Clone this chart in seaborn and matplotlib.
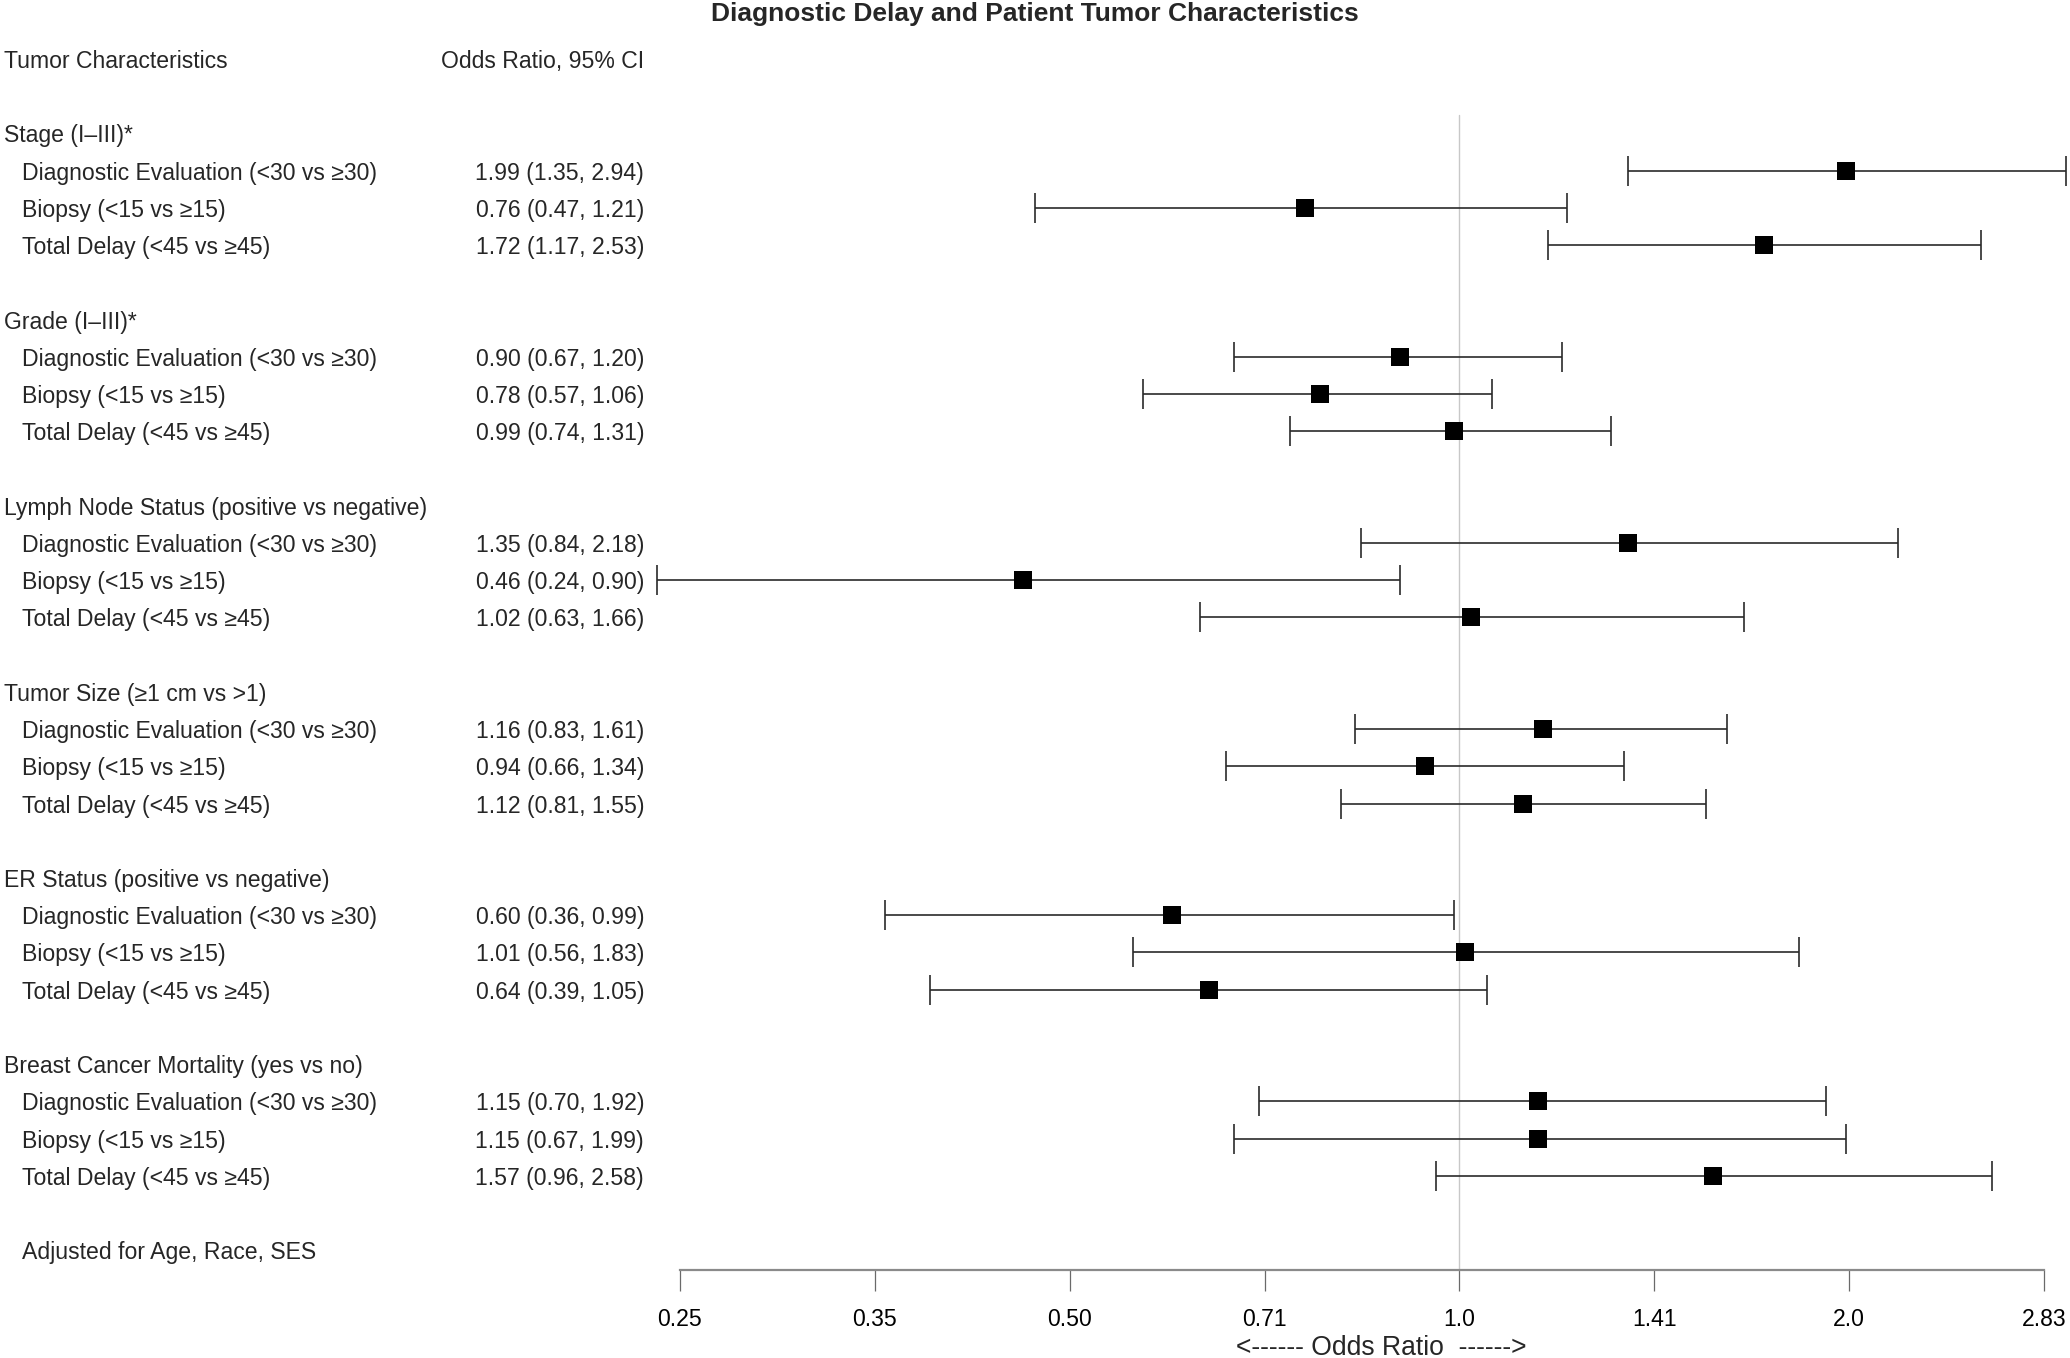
import numpy as np
import pandas as pd
import matplotlib
matplotlib.use("Agg")
import matplotlib.pyplot as plt
import matplotlib.transforms as mtransforms
import seaborn as sns

# ---------------- data ----------------
groups = ["Stage (I\u2013III)*", "Grade (I\u2013III)*",
          "Lymph Node Status (positive vs negative)",
          "Tumor Size (\u22651 cm vs >1)",
          "ER Status (positive vs negative)",
          "Breast Cancer Mortality (yes vs no)"]
subgroups = ["Diagnostic Evaluation (<30 vs \u226530)",
             "Biopsy (<15 vs \u226515)",
             "Total Delay (<45 vs \u226545)"]
odds = [1.99, 0.76, 1.72, 0.90, 0.78, 0.99, 1.35, 0.46, 1.02,
        1.16, 0.94, 1.12, 0.60, 1.01, 0.64, 1.15, 1.15, 1.57]
ci_low = [1.35, 0.47, 1.17, 0.67, 0.57, 0.74, 0.84, 0.24, 0.63,
          0.83, 0.66, 0.81, 0.36, 0.56, 0.39, 0.70, 0.67, 0.96]
ci_high = [2.94, 1.21, 2.53, 1.20, 1.06, 1.31, 2.18, 0.90, 1.66,
           1.61, 1.34, 1.55, 0.99, 1.83, 1.05, 1.92, 1.99, 2.58]
tick_values = [0.25, 0.3536, 0.5, 0.7071, 1.0, 1.4142, 2.0, 2.8284]
tick_labels = ["0.25", "0.35", "0.50", "0.71", "1.0", "1.41", "2.0", "2.83"]
title = "Diagnostic Delay and Patient Tumor Characteristics"
footnote = "Adjusted for Age, Race, SES"

# ---------------- build table ----------------
rows = []
for g, grp in enumerate(groups):
    for k, sub in enumerate(subgroups):
        i = g * 3 + k
        rows.append(dict(group=grp, label=sub, pos=3 + 5 * g + k,
                         OR=odds[i], lo=ci_low[i], hi=ci_high[i]))
df = pd.DataFrame(rows)

# ---------------- figure ----------------
sns.set_theme(style="white")
plt.rcParams['font.family'] = ['Liberation Sans', 'DejaVu Sans']
FS = 16.6
W, H = 2070, 1358
fig = plt.figure(figsize=(W / 100, H / 100), dpi=100)

x0, x1 = 680, 2044
ytop, ybot = 40, 1270
ax = fig.add_axes([x0 / W, 1 - ybot / H, (x1 - x0) / W, (ybot - ytop) / H])
ax.set_xscale('log', base=2)
ax.set_xlim(0.25, 2.8284)
row0, rowstep = 58.9, 37.23
ax.set_ylim((ybot - row0) / rowstep, (ytop - row0) / rowstep)

# reference line at 1
ax.plot([1, 1], [1.5, (ybot - row0) / rowstep], color='#c8c8c8', lw=1.0, zorder=1,
        clip_on=False)

# confidence intervals
ax.errorbar(df["OR"], df["pos"],
            xerr=[df["OR"] - df["lo"], df["hi"] - df["OR"]],
            fmt='none', ecolor='#2a2a2a', elinewidth=1.2, capsize=10.5,
            capthick=1.2, clip_on=False, zorder=2)
# point estimates
sns.scatterplot(data=df, x="OR", y="pos", marker='s', s=185, color='black',
                edgecolor='black', linewidth=0, ax=ax, zorder=3, clip_on=False,
                legend=False)

# axes styling
for s in ['top', 'right', 'left']:
    ax.spines[s].set_visible(False)
ax.spines['bottom'].set_color('#8a8a8a')
ax.spines['bottom'].set_linewidth(1.6)
ax.set_yticks([])
ax.set_xticks(tick_values)
ax.set_xticklabels(tick_labels)
ax.xaxis.set_minor_locator(matplotlib.ticker.NullLocator())
ax.tick_params(axis='x', bottom=True, length=15, width=0.9, color='#6a6a6a',
               pad=12, labelsize=FS, labelcolor='black')
ax.set_xlabel("<------ Odds Ratio  ------>", fontsize=FS + 2.5, labelpad=4)
ax.xaxis.set_label_coords(0.514, -0.053)
ax.set_ylabel("")
ax.patch.set_alpha(0)

# left-side text
tr = mtransforms.blended_transform_factory(fig.transFigure, ax.transData)
xl0, xl1, xr = 4 / W, 22 / W, 644 / W
VA = 'center_baseline'
ax.text(xl0, 0, "Tumor Characteristics", transform=tr, fontsize=FS, va=VA, ha='left')
ax.text(xr, 0, "Odds Ratio, 95% CI", transform=tr, fontsize=FS, va=VA, ha='right')
for g, grp in enumerate(groups):
    ax.text(xl0, 2 + 5 * g, grp, transform=tr, fontsize=FS, va=VA, ha='left')
for _, r in df.iterrows():
    ax.text(xl1, r["pos"], r["label"], transform=tr, fontsize=FS, va=VA, ha='left')
    ax.text(xr, r["pos"], f"{r['OR']:.2f} ({r['lo']:.2f}, {r['hi']:.2f})",
            transform=tr, fontsize=FS, va=VA, ha='right')
ax.text(xl1, 32, footnote, transform=tr, fontsize=FS, va=VA, ha='left')

fig.text(0.5, 1 - 14 / H, title, ha='center', va='center', fontsize=19,
         fontweight='bold')

fig.savefig("out.png", dpi=100, facecolor='white')
